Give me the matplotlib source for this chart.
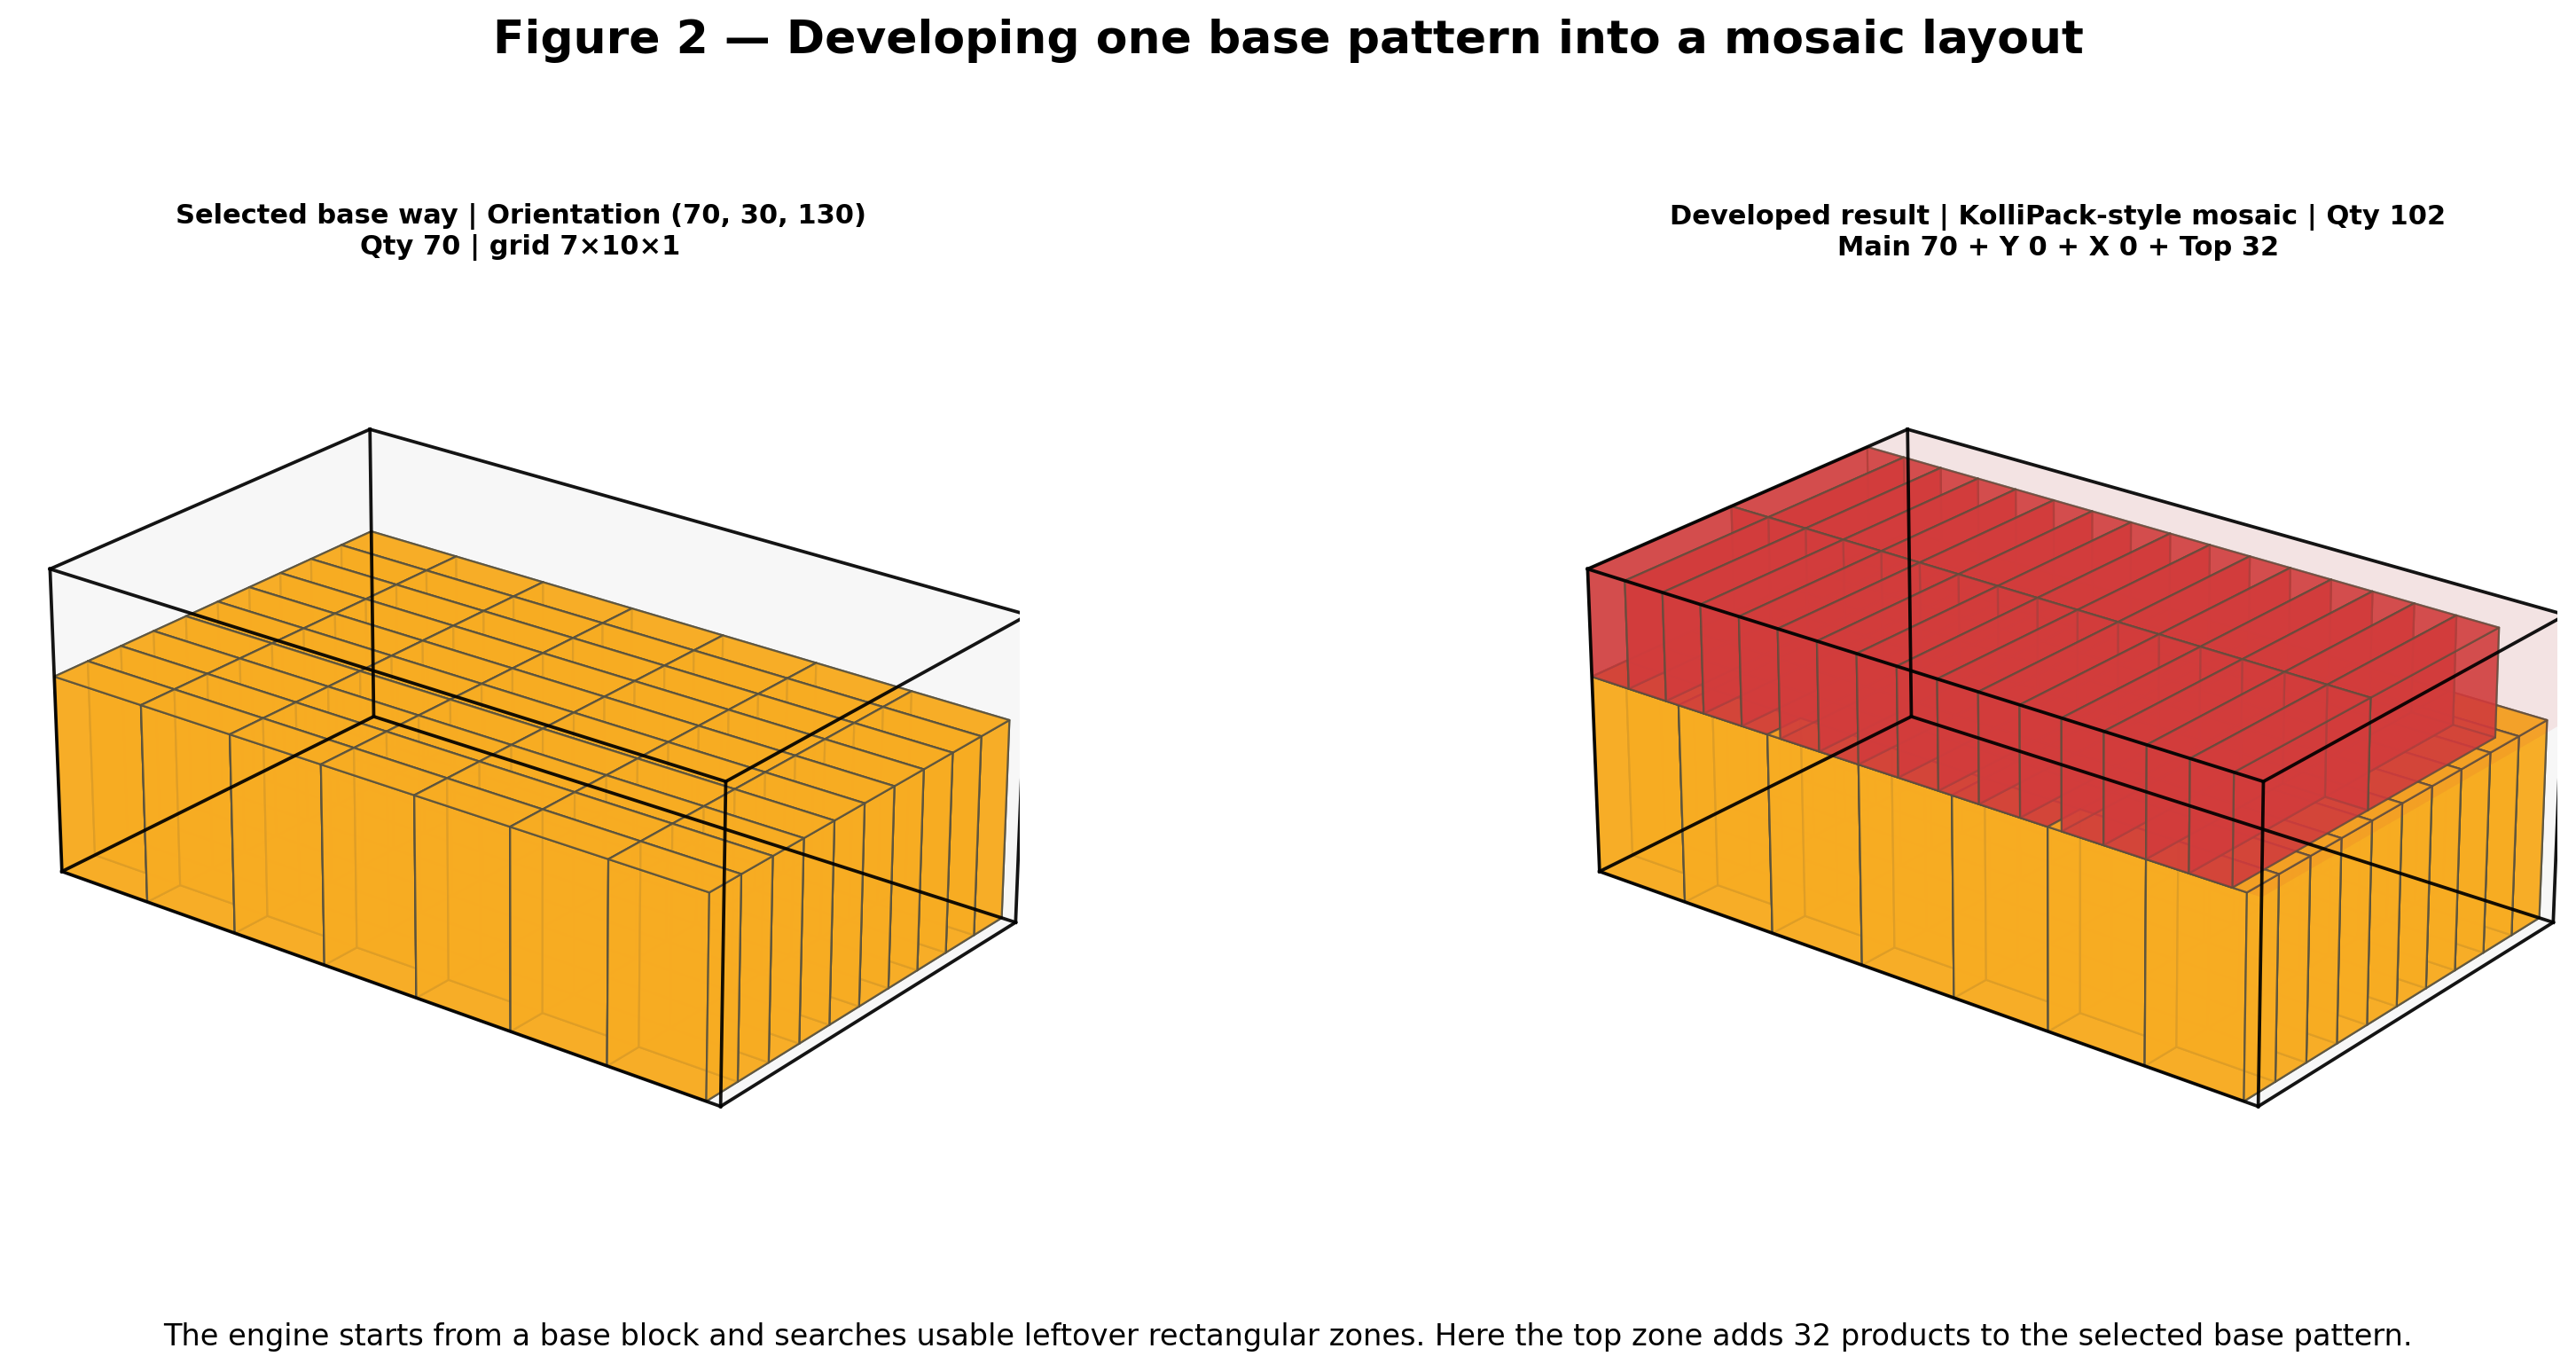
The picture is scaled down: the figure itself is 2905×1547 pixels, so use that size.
import matplotlib
matplotlib.use('Agg')
import matplotlib.pyplot as plt

# container and product data
container = (500, 300, 200)
base_box = (70, 30, 130)
base_grid = (7, 10, 1)
top_box = (30, 130, 70)
top_grid = (16, 2, 1)
top_zone_z = 130

title = 'Figure 2 — Developing one base pattern into a mosaic layout'
left_title = 'Selected base way | Orientation (70, 30, 130)\nQty 70 | grid 7×10×1'
right_title = 'Developed result | KolliPack-style mosaic | Qty 102\nMain 70 + Y 0 + X 0 + Top 32'
note = ('The engine starts from a base block and searches usable leftover rectangular zones. '
        'Here the top zone adds 32 products to the selected base pattern.')

ORANGE = '#f8ac22'
RED = '#d23c3c'
EDGE = '#55503f'
W, H = 2905, 1547


def draw_boxes(ax, box, grid, z0, color, alpha):
    for i in range(grid[0]):
        for j in range(grid[1]):
            for k in range(grid[2]):
                ax.bar3d(i * box[0], j * box[1], z0 + k * box[2], box[0], box[1], box[2],
                         color=color, alpha=alpha, edgecolor=EDGE, linewidth=0.8, shade=False)


def draw_frame(ax):
    L, D, T = container
    for y in (0, D):
        for z in (0, T):
            ax.plot([0, L], [y, y], [z, z], color='black', lw=1.35, alpha=0.92, zorder=1000)
    for x in (0, L):
        for z in (0, T):
            ax.plot([x, x], [0, D], [z, z], color='black', lw=1.35, alpha=0.92, zorder=1000)
    for x in (0, L):
        for y in (0, D):
            ax.plot([x, x], [y, y], [0, T], color='black', lw=1.35, alpha=0.92, zorder=1000)


def setup(ax, text):
    ax.set_xlim(0, container[0])
    ax.set_ylim(0, container[1])
    ax.set_zlim(0, container[2])
    ax.set_box_aspect(container, zoom=1.0)
    ax.view_init(elev=24, azim=-52)
    ax.set_xticks([])
    ax.set_yticks([])
    ax.set_zticks([])
    ax.grid(False)
    for axis in (ax.xaxis, ax.yaxis, ax.zaxis):
        axis.set_pane_color((0.97, 0.97, 0.97, 1.0))
        axis.pane.set_edgecolor((1, 1, 1, 0))
        axis.pane.set_clip_box(ax.bbox)
        axis.pane.set_clip_on(True)
        axis.line.set_color((1, 1, 1, 0))
    ax.set_title(text, fontsize=11, fontweight='bold', pad=2)


fig = plt.figure(figsize=(W / 200, H / 200), dpi=200)
size = 1126
y0 = (H - 856.5 - size / 2) / H
ax1 = fig.add_axes([(587 - size / 2) / W, y0, size / W, size / H], projection='3d')
ax2 = fig.add_axes([(2321 - size / 2) / W, y0, size / W, size / H], projection='3d')

draw_boxes(ax1, base_box, base_grid, 0, ORANGE, 0.84)
draw_frame(ax1)
setup(ax1, left_title)

draw_boxes(ax2, base_box, base_grid, 0, ORANGE, 0.84)
ax2.bar3d(0, 0, top_zone_z, container[0], container[1], container[2] - top_zone_z,
          color=RED, alpha=0.05, shade=False)
draw_boxes(ax2, top_box, top_grid, top_zone_z, RED, 0.68)
draw_frame(ax2)
setup(ax2, right_title)

fig.text(0.5, 0.9700, title, ha='center', va='center', fontsize=18.73, fontweight='bold')
fig.text(0.5, 0.0258, note, ha='center', va='center', fontsize=12.12)
fig.savefig('out.png', dpi=200)
